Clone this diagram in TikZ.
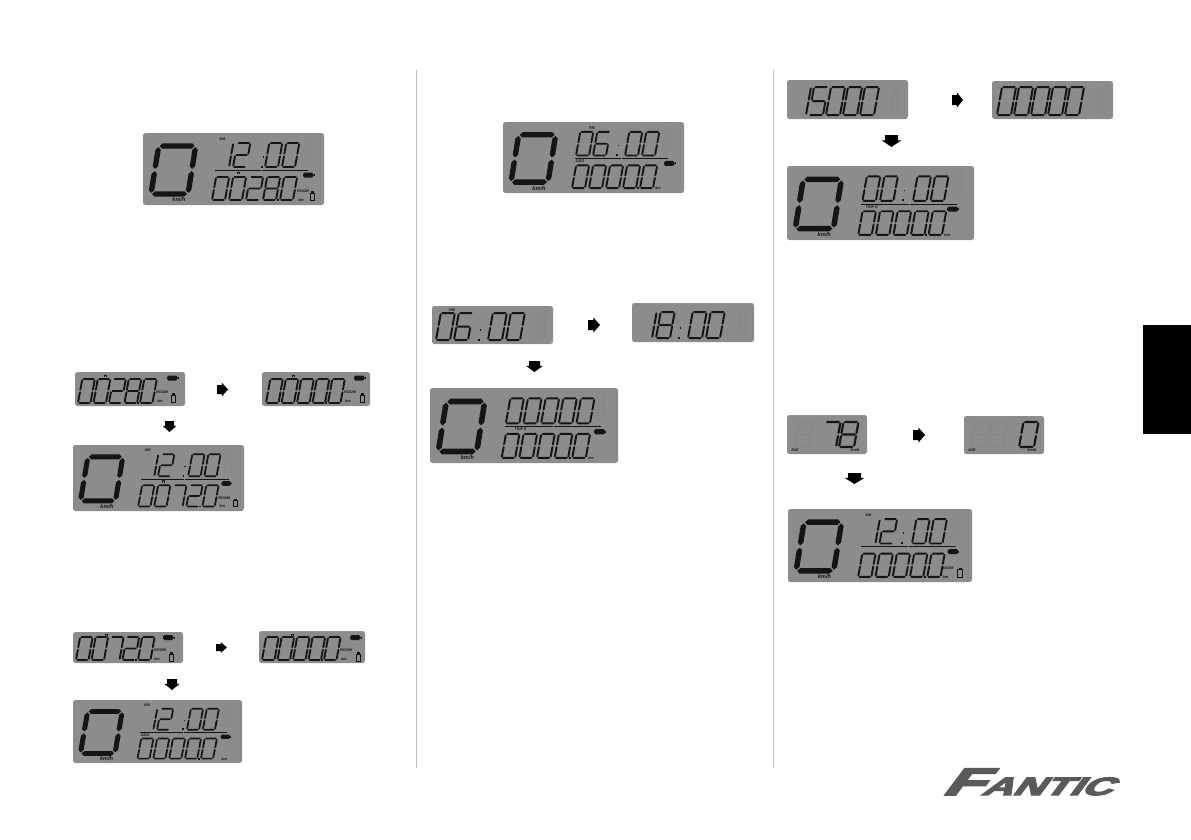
\documentclass[tikz,border=0pt]{standalone}
\usepackage{fontspec}
\setmainfont{Liberation Sans}
\newfontfamily\logofont[FakeBold=5]{Liberation Sans Bold}
\definecolor{lcdbg}{HTML}{8C8C8C}
\definecolor{lcdghost}{HTML}{888888}
\definecolor{lcdink}{HTML}{151515}
\definecolor{rulec}{HTML}{BDBDBD}
\definecolor{logoc}{HTML}{5A5A5A}
\tikzset{
  lcdlabel/.style={inner sep=0pt,text=lcdink,font=\fontsize{3.8}{5}\selectfont\bfseries\itshape},
  kmh/.style={inner sep=0pt,text=lcdink,font=\fontsize{5.6}{6}\selectfont\bfseries\itshape},
  panelbox/.style={fill=lcdbg,rounded corners=2.5pt},
  arrowfill/.style={fill=black},
  divider/.style={draw=lcdink,line width=0.8pt},
  colrule/.style={draw=rulec,line width=0.7pt},
  logotext/.style={inner sep=0pt,text=logoc,anchor=base west,transform shape}
}
\newcounter{labc}
\newcommand\lab[4][lcdlabel]{\stepcounter{labc}\node[#1] (lab\thelabc) at (#2,#3) {#4};}
% seven-segment digits
\def\dww{13}\def\dhh{24}\def\dtt{2}\def\dadv{17}\def\dsl{0.18}\def\dcol{lcdink}
\newcommand\setd[4]{\def\dww{#1}\def\dhh{#2}\def\dtt{#3}\def\dadv{#4}}
\newcommand\hseg[3]{\fill[\dcol] (#1+0.2*\dtt,#3) -- (#1+0.2*\dtt+0.5*\dtt,#3-0.5*\dtt) -- (#2-0.2*\dtt-0.5*\dtt,#3-0.5*\dtt) -- (#2-0.2*\dtt,#3) -- (#2-0.2*\dtt-0.5*\dtt,#3+0.5*\dtt) -- (#1+0.2*\dtt+0.5*\dtt,#3+0.5*\dtt) -- cycle;}
\newcommand\vseg[3]{\fill[\dcol] (#1,#2+0.2*\dtt) -- (#1+0.5*\dtt,#2+0.2*\dtt+0.5*\dtt) -- (#1+0.5*\dtt,#3-0.2*\dtt-0.5*\dtt) -- (#1,#3-0.2*\dtt) -- (#1-0.5*\dtt,#3-0.2*\dtt-0.5*\dtt) -- (#1-0.5*\dtt,#2+0.2*\dtt+0.5*\dtt) -- cycle;}
\newcommand\dsegA{\hseg{0}{\dww}{-\dhh}}
\newcommand\dsegB{\vseg{\dww}{-\dhh}{-0.5*\dhh}}
\newcommand\dsegC{\vseg{\dww}{-0.5*\dhh}{0}}
\newcommand\dsegD{\hseg{0}{\dww}{0}}
\newcommand\dsegE{\vseg{0}{-0.5*\dhh}{0}}
\newcommand\dsegF{\vseg{0}{-\dhh}{-0.5*\dhh}}
\newcommand\dsegG{\hseg{0}{\dww}{-0.5*\dhh}}
\newcommand\lcddigit[3]{%
  \ifcase#3 \def\segl{A,B,C,D,E,F}\or\def\segl{B,C}\or\def\segl{A,B,G,E,D}\or\def\segl{A,B,G,C,D}\or\def\segl{F,G,B,C}\or\def\segl{A,F,G,C,D}\or\def\segl{A,F,G,E,C,D}\or\def\segl{A,B,C}\or\def\segl{A,B,C,D,E,F,G}\or\def\segl{A,B,C,D,F,G}\fi
  \begin{scope}[shift={(#1,#2)},xslant=\dsl]
    \foreach \sgn in \segl {\csname dseg\sgn\endcsname}
  \end{scope}}
\makeatletter
\newcommand\dseq[3]{\def\cx{#1}\def\cb{#2}%
  \@tfor\ch:=#3\do{%
    \if.\ch \fill[\dcol] (\cx-3.2,\cb-1) rectangle (\cx-1.2,\cb+1);%
    \else \lcddigit{\cx}{\cb}{\ch}\pgfmathsetmacro\cx{\cx+\dadv}\fi}}
\makeatother
\newcommand\lcdcolon[2]{\fill[lcdink] (#1,#2-1.5) rectangle (#1+1.8,#2+0.5);\fill[lcdink] (#1+1.8,#2-11) rectangle (#1+3.2,#2-9.5);}
\newcommand\ghostpair[3]{{\def\dcol{lcdghost}\setd{#3}{12}{2.5}{10}\lcddigit{#1}{#2}{8}\lcddigit{#1}{#2+13}{8}}}
\newcommand\panel[5]{%
  \fill[panelbox] (#1,#2) rectangle (#3,#4);
  \pgfmathsetmacro\psx{(#3-#1)/181}\pgfmathsetmacro\psy{(#4-#2)/72}
  \begin{scope}[shift={(#1,#2)},xscale=\psx,yscale=\psy]
    #5
  \end{scope}}
\newcommand\bigzero{\setd{37}{48}{5.4}{40}\def\dsl{0.16}\lcddigit{8}{61}{0}\def\dsl{0.18}\lab[kmh]{36}{67}{km/h}}
\newcommand\timerow[3]{\setd{13}{24}{1.9}{17}\dseq{73}{34}{#1}\lcdcolon{#3}{34}\dseq{122}{34}{#2}}
\newcommand\dividers{\draw[divider] (72,37) -- (118,37);\draw[divider] (119,37) -- (165,37);}
\newcommand\botrow[1]{\setd{13}{23}{1.9}{17}\dseq{69}{67}{#1}}
\newcommand\batt[2]{\fill[lcdink,rounded corners=1.6pt] (#1,#2) rectangle (#1+10.5,#2+5);\fill[lcdink] (#1+10.5,#2+1.5) rectangle (#1+11.6,#2+3.5);}
\newcommand\lcdicon[2]{\draw[lcdink,line width=0.8pt] (#1,#2) rectangle (#1+4.5,#2+7);\fill[lcdink] (#1+0.8,#2-1.6) rectangle (#1+3.7,#2-0.4);}
\newcommand\lcdmark[2]{\draw[lcdink,line width=0.6pt] (#1,#2+2) -- (#1,#2) -- (#1+2.4,#2) -- (#1+2.4,#2+2);}
\newcommand\arrR[4]{\fill[arrowfill] (#1,#3) -- ({#1+0.45*(#2-#1)},#3) -- ({#1+0.45*(#2-#1)},{#3-0.25*(#4-#3)}) -- (#2,{0.5*(#3+#4)}) -- ({#1+0.45*(#2-#1)},{#4+0.25*(#4-#3)}) -- ({#1+0.45*(#2-#1)},#4) -- (#1,#4) -- cycle;}
\newcommand\arrD[4]{\fill[arrowfill] (#1,#3) -- (#2,#3) -- (#2,{#3+0.45*(#4-#3)}) -- ({#2+0.25*(#2-#1)},{#3+0.45*(#4-#3)}) -- ({0.5*(#1+#2)},#4) -- ({#1-0.25*(#2-#1)},{#3+0.45*(#4-#3)}) -- (#1,{#3+0.45*(#4-#3)}) -- cycle;}
\begin{document}
\begin{tikzpicture}[x=1pt,y=-1pt]
\useasboundingbox (0,0) rectangle (1191,839);
\fill[white] (0,0) rectangle (1191,839);
% column rules and tab
\draw[colrule] (416.5,70) -- (416.5,768);
\draw[colrule] (773.5,70) -- (773.5,768);
\fill[black] (1143,325) rectangle (1191,434);

% ---------- left column ----------
\panel{143}{133}{324}{205}{\bigzero
  \ghostpair{160}{18}{7}
  \timerow{12}{00}{118}\dividers\botrow{0028.0}
  \lab{79}{6}{AM}\lcdmark{94}{39}\batt{160}{39.5}
  \lab{160}{58}{ROOM}\lab{158}{67}{km}\lcdicon{167}{60}}

\fill[panelbox] (75,372) rectangle (185,406);
\setd{12.5}{24}{1.9}{15.5}\dseq{78}{403}{0028.0}
\lcdmark{104}{375}\batt{167}{375.5}\lab{162}{392}{ROOM}\lab{160}{401}{km}\lcdicon{171}{395}
\arrR{217}{228}{385}{394}
\fill[panelbox] (262,372) rectangle (370,406);
\setd{12.5}{24}{1.9}{15.5}\dseq{266}{403}{0000.0}
\lcdmark{292}{375}\batt{354}{375.5}\lab{350}{392}{ROOM}\lab{348}{401}{km}\lcdicon{360}{395}
\arrD{165}{174}{421}{432}
\panel{73}{445}{244}{511}{\bigzero
  \ghostpair{160}{18}{7}
  \timerow{12}{00}{116}\dividers\botrow{0072.0}
  \lab{79}{6}{AM}\lcdmark{94}{39}\batt{157}{39.5}
  \lab{160}{58}{ROOM}\lab{158}{67}{km}\lcdicon{170}{60}}

\fill[panelbox] (73,632) rectangle (183,663);
\setd{12.5}{23}{1.9}{15.5}\dseq{76}{660}{0072.0}
\lcdmark{105}{634.5}\batt{163}{635}\lab{160}{650}{ROOM}\lab{157}{659}{km}\lcdicon{169}{654}
\arrR{216}{227}{644}{651}
\fill[panelbox] (259,631) rectangle (365,663);
\setd{12.5}{23}{1.9}{15.5}\dseq{262}{660}{0000.0}
\lcdmark{291}{634}\batt{350}{635}\lab{346}{650}{ROOM}\lab{344}{659}{km}\lcdicon{356}{654}
\arrD{167}{177}{679}{690}
\panel{73}{700}{242}{763}{\bigzero
  \ghostpair{160}{18}{7}
  \timerow{12}{00}{117}\dividers\botrow{0000.0}
  \lab{79}{6}{AM}\lab{77}{40}{ODO}\batt{158}{39.5}\lab{162}{67}{km}}

% ---------- middle column ----------
\panel{503}{122}{684}{193}{\bigzero
  \ghostpair{160}{18}{7}
  \timerow{06}{00}{113}\dividers\botrow{0000.0}
  \lab{89}{6}{PM}\lab{77}{40}{ODO}\batt{161}{39.5}\lab{155}{67}{km}}

\fill[panelbox] (432,306) rectangle (553,344);
\setd{14}{27}{2}{18}\dseq{436}{340}{06}\lcdcolon{478}{340}\dseq{488}{340}{00}
\lab{452}{310}{PM}
{\def\dcol{lcdghost}\setd{7}{11}{2.5}{10}\lcddigit{537}{325}{8}\lcddigit{537}{337}{8}}
\arrR{588}{600}{320}{330}
\fill[panelbox] (632,303) rectangle (754,342);
\setd{14}{26}{2}{18}\dseq{638}{338}{18}\lcdcolon{678}{338}\dseq{688}{338}{00}
{\def\dcol{lcdghost}\setd{7}{11}{2.5}{10}\lcddigit{738}{322}{8}\lcddigit{738}{334}{8}}
\arrD{529}{540}{361}{372}
\panel{430}{388}{618}{463}{\bigzero
  \ghostpair{160}{18}{7}
  \setd{13}{24}{1.9}{17}\dseq{73}{34}{00000}\dividers\botrow{0000.0}
  \lab{87}{40}{TRIP 0}\batt{158}{39.5}\lab{155}{67}{km}}

% ---------- right column ----------
\fill[panelbox] (787,80) rectangle (908,119);
\setd{14}{28}{2}{17}\dseq{792}{115}{15000}
{\def\dcol{lcdghost}\setd{7}{11}{2.5}{10}\lcddigit{891}{100}{8}\lcddigit{891}{112}{8}}
\arrR{952}{963}{95}{105}
\fill[panelbox] (992,81) rectangle (1113,119);
\setd{14}{28}{2}{17}\dseq{997}{115}{00000}
{\def\dcol{lcdghost}\setd{7}{11}{2.5}{10}\lcddigit{1096}{100}{8}\lcddigit{1096}{112}{8}}
\arrD{885}{898}{135}{147}
\panel{787}{166}{974}{240}{\bigzero
  \ghostpair{160}{18}{7}
  \timerow{00}{00}{111}\dividers\botrow{0000.0}
  \lab{82}{40}{TRIP E}\batt{155}{39.5}\lab{155}{67}{km}}

\fill[panelbox] (787,415) rectangle (867,454);
{\def\dcol{lcdghost}\setd{15}{25}{2}{18}\dseq{794}{447}{8}}
\setd{15}{25}{2.2}{18}\dseq{821}{447}{78}
\lab{795}{450.5}{AVE}\lab{855}{450.5}{km/h}
\arrR{913}{925}{430}{440}
\fill[panelbox] (964,416) rectangle (1044,454);
{\def\dcol{lcdghost}\setd{15}{25}{2}{18}\dseq{970}{447}{88}}
\setd{15}{25}{2.2}{18}\dseq{1019}{447}{0}
\lab{972}{450.5}{AVE}\lab{1032}{450.5}{km/h}
\arrD{848}{861}{473}{484}
\panel{788}{509}{972}{582}{\bigzero
  \ghostpair{160}{18}{7}
  \timerow{12}{00}{111}\dividers\botrow{0000.0}
  \lab{79}{6}{AM}\batt{157}{39.5}
  \lab{157}{58}{ROOM}\lab{155}{67}{km}\lcdicon{167}{60}}

% ---------- logo ----------
\node[logotext,xslant=0.75,xscale=1.7] (logo) at (941,795) {\logofont{\fontsize{38}{38}\selectfont F}{\fontsize{25}{25}\selectfont ANTIC}};
\end{tikzpicture}
\end{document}
